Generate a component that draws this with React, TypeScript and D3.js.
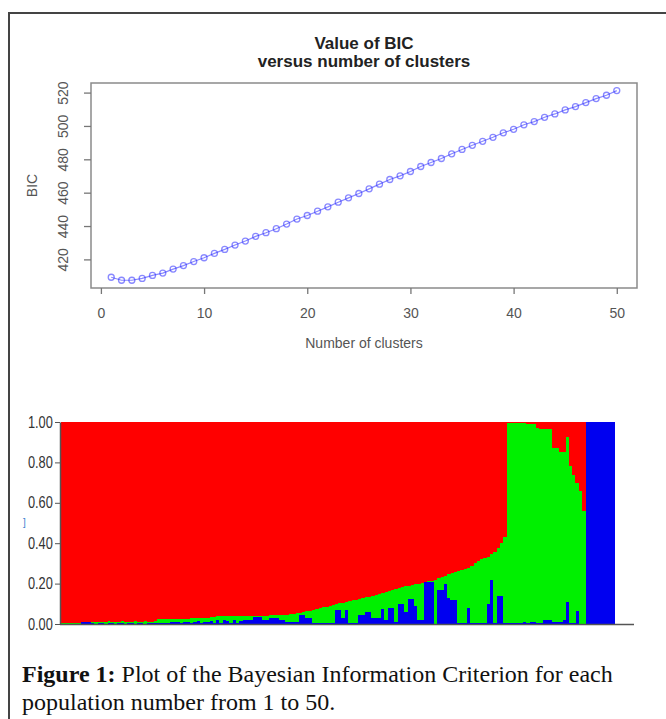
import React, { useEffect, useRef } from 'react'
import * as d3 from 'd3'

const WIDTH = 666
const HEIGHT = 719

// top panel: BIC value for each number of clusters
const clusters = [1, 2, 3, 4, 5, 6, 7, 8, 9, 10, 11, 12, 13, 14, 15, 16, 17, 18, 19, 20, 21, 22, 23, 24, 25,
  26, 27, 28, 29, 30, 31, 32, 33, 34, 35, 36, 37, 38, 39, 40, 41, 42, 43, 44, 45, 46, 47, 48, 49, 50]
const bic = [409.3, 407.5, 407.5, 408.6, 410.4, 411.8, 414.2, 416.3, 418.7, 421.0,
  423.6, 426.0, 428.6, 431.0, 433.8, 436.0, 438.4, 441.2, 444.2, 446.3,
  448.9, 451.5, 454.3, 456.9, 459.5, 462.3, 465.1, 467.9, 470.1, 472.7,
  475.7, 478.1, 480.5, 483.3, 485.9, 488.4, 490.8, 493.2, 495.9, 498.0,
  500.7, 502.6, 505.2, 507.2, 509.6, 511.6, 514.0, 516.4, 518.4, 521.2]
const bicTicksX = [0, 10, 20, 30, 40, 50]
const bicTicksY = [420, 440, 460, 480, 500, 520]

// bottom panel: membership of each individual (green = what is left)
const qRed = [
  0.994, 0.994, 0.994, 0.994, 0.994, 0.994, 0.99, 0.99, 0.99,
  0.988, 0.988, 0.989, 0.988, 0.988, 0.987, 0.988, 0.988, 0.988, 0.987,
  0.988, 0.988, 0.988, 0.987, 0.988, 0.988, 0.987, 0.988, 0.988, 0.987,
  0.977, 0.977, 0.977, 0.976,
  0.975, 0.974, 0.974, 0.973, 0.973, 0.973, 0.972, 0.972, 0.972, 0.971, 0.971, 0.97,
  0.963, 0.963, 0.962, 0.962, 0.962, 0.962, 0.961, 0.961, 0.961, 0.961, 0.96, 0.96,
  0.96, 0.96, 0.959,
  0.958, 0.958, 0.958, 0.957, 0.957,
  0.955, 0.955, 0.954, 0.953, 0.952,
  0.95, 0.947, 0.944, 0.941, 0.938, 0.934, 0.93, 0.926, 0.922, 0.918,
  0.914, 0.91, 0.906, 0.902, 0.898, 0.895, 0.891, 0.887, 0.883, 0.879,
  0.875, 0.872, 0.868, 0.864, 0.86, 0.857, 0.851, 0.846, 0.841, 0.836,
  0.83, 0.826, 0.822, 0.818, 0.814, 0.81, 0.807, 0.804, 0.801, 0.798,
  0.79, 0.789, 0.786, 0.782, 0.774, 0.768, 0.76, 0.75, 0.746, 0.742,
  0.738, 0.734, 0.729, 0.724, 0.712, 0.7, 0.69, 0.68, 0.673, 0.667,
  0.655, 0.642, 0.625, 0.6, 0.57,
  0.003, 0.003, 0.003, 0.003, 0.003, 0.003,
  0.01, 0.01, 0.01, 0.03, 0.035, 0.035, 0.035, 0.035,
  0.13, 0.13, 0.15, 0.15, 0.075,
  0.22, 0.26, 0.3, 0.34, 0.44,
  0, 0, 0, 0, 0, 0, 0, 0, 0]
const qBlue = [
  0, 0, 0, 0, 0, 0, 0.008, 0.008, 0.008,
  0.005, 0, 0.006, 0.005, 0, 0.006, 0.005, 0, 0.005, 0.006,
  0, 0.005, 0.006, 0, 0.005, 0.006, 0, 0.005, 0.006, 0.004,
  0.003, 0.003, 0.003, 0.003,
  0.012, 0.012, 0.01, 0.004, 0.012, 0.01, 0.004, 0.012, 0.015, 0.006, 0.012, 0.01,
  0.015, 0.005, 0.02, 0.006, 0.018, 0.015, 0.004, 0.02, 0.006, 0.015, 0.02, 0.02,
  0.02, 0.033, 0.033,
  0.033, 0.02, 0.02, 0.028, 0.028, 0.028, 0.02, 0.02, 0.01, 0.01,
  0.01, 0.01, 0.045, 0.045, 0.028, 0.028, 0.003, 0.003, 0.003, 0.003,
  0.003, 0.003, 0.003, 0.068, 0.068, 0.028, 0.068, 0.003, 0.003, 0.003,
  0.045, 0.045, 0.06, 0.06, 0.028, 0.028, 0.028, 0.075, 0.02, 0.08,
  0.08, 0.01, 0.1, 0.1, 0.06, 0.125, 0.125, 0.09, 0.02, 0.02,
  0.21, 0.21, 0.21, 0, 0.17, 0.17, 0.2, 0.13, 0.12, 0.12,
  0.005, 0.005, 0.005, 0.08, 0.005, 0.005, 0.005, 0.005, 0.005, 0.1,
  0.22, 0.005, 0.14, 0.14, 0.003, 0.003, 0.003, 0.003, 0.003, 0.003,
  0.01, 0.003, 0.01, 0.01, 0.003, 0.003, 0.02, 0.02, 0.02, 0.01,
  0.01, 0.01, 0.02, 0.11, 0.005, 0.005, 0.065, 0, 0,
  1, 1, 1, 1, 1, 1, 1, 1, 1]
const qTicks = [0, 0.2, 0.4, 0.6, 0.8, 1.0]
const qColors = { blue: '#0000f0', green: '#00f000', red: '#ff0000' }

function App() {
  const ref = useRef<SVGSVGElement>(null)

  useEffect(() => {
    const svg = d3.select(ref.current)
    svg.selectAll('*').remove()

    // page frame
    svg.append('path')
      .attr('d', 'M9,719V13H666')
      .attr('fill', 'none')
      .attr('stroke', '#444')
      .attr('stroke-width', 2)

    // ---------- BIC plot ----------
    const box = { left: 91, right: 637, top: 83, bottom: 288 }
    const x = d3.scaleLinear().domain([-0.96, 51.96]).range([box.left, box.right])
    const y = d3.scaleLinear().domain([402.85, 525.75]).range([box.bottom, box.top])
    const font = "'Liberation Sans', Arial, sans-serif"

    const top = svg.append('g').style('font-family', font)

    top.append('rect')
      .attr('x', box.left).attr('y', box.top)
      .attr('width', box.right - box.left).attr('height', box.bottom - box.top)
      .attr('fill', 'none').attr('stroke', '#8a8a8a').attr('stroke-width', 1.5)

    const xAxis = top.append('g')
      .attr('transform', 'translate(0,' + box.bottom + ')')
      .call(d3.axisBottom(x).tickValues(bicTicksX).tickSize(6).tickSizeOuter(0).tickPadding(14))
    xAxis.select('.domain').remove()
    xAxis.selectAll('line').attr('stroke', '#777').attr('stroke-width', 1.3)
    xAxis.selectAll('text').attr('font-size', 14).attr('fill', '#555').attr('font-family', font)

    const yAxis = top.append('g')
      .attr('transform', 'translate(' + box.left + ',0)')
      .call(d3.axisLeft(y).tickValues(bicTicksY).tickSize(7).tickSizeOuter(0))
    yAxis.select('.domain').remove()
    yAxis.selectAll('line').attr('stroke', '#777').attr('stroke-width', 1.3)
    yAxis.selectAll('text')
      .attr('transform', 'rotate(-90)')
      .attr('x', 0).attr('y', -23).attr('dy', 0)
      .attr('text-anchor', 'middle')
      .attr('font-size', 14).attr('fill', '#555').attr('font-family', font)

    const line = d3.line<number>()
      .x((d, i) => x(clusters[i]))
      .y(d => y(d))
    top.append('path')
      .datum(bic)
      .attr('d', line)
      .attr('fill', 'none')
      .attr('stroke', 'rgba(40,40,255,0.55)')
      .attr('stroke-width', 1.2)
    top.selectAll('circle.pt')
      .data(bic)
      .join('circle')
      .attr('class', 'pt')
      .attr('cx', (d, i) => x(clusters[i]))
      .attr('cy', d => y(d))
      .attr('r', 3)
      .attr('fill', 'none')
      .attr('stroke', 'rgba(40,40,255,0.55)')
      .attr('stroke-width', 1.3)

    top.append('text')
      .attr('x', (box.left + box.right) / 2).attr('y', 49)
      .attr('text-anchor', 'middle').attr('font-weight', 'bold')
      .attr('font-size', 17).attr('fill', '#222')
      .text('Value of BIC')
    top.append('text')
      .attr('x', (box.left + box.right) / 2).attr('y', 67)
      .attr('text-anchor', 'middle').attr('font-weight', 'bold')
      .attr('font-size', 17).attr('fill', '#222')
      .text('versus number of clusters')
    top.append('text')
      .attr('x', (box.left + box.right) / 2).attr('y', 348)
      .attr('text-anchor', 'middle')
      .attr('font-size', 14).attr('fill', '#555')
      .text('Number of clusters')
    top.append('text')
      .attr('transform', 'translate(37,' + (box.top + box.bottom) / 2 + ') rotate(-90)')
      .attr('text-anchor', 'middle')
      .attr('font-size', 14).attr('fill', '#555')
      .text('BIC')

    // ---------- membership bar plot ----------
    const plot = { left: 61, right: 615, top: 422, bottom: 624 }
    const rows = qRed.map((r, i) => ({
      blue: qBlue[i],
      green: Math.max(0, 1 - r - qBlue[i]),
      red: r
    }))
    const xb = d3.scaleBand<number>().domain(d3.range(rows.length)).range([plot.left, plot.right])
    const yq = d3.scaleLinear().domain([0, 1]).range([plot.bottom, plot.top])
    const stack = d3.stack<any>().keys(['blue', 'green', 'red'])(rows)

    const bars = svg.append('g').attr('shape-rendering', 'crispEdges')
    bars.selectAll('g')
      .data(stack)
      .join('g')
      .attr('fill', d => (qColors as any)[d.key])
      .selectAll('rect')
      .data(d => d.map((s, i) => ({ s, i })))
      .join('rect')
      .attr('x', d => xb(d.i) as number)
      .attr('width', xb.bandwidth() + 0.4)
      .attr('y', d => yq(Math.min(1, d.s[1])))
      .attr('height', d => Math.max(0, yq(d.s[0]) - yq(Math.min(1, d.s[1]))))

    const qAxis = svg.append('g')
      .attr('transform', 'translate(60,0)')
      .call(d3.axisLeft(yq).tickValues(qTicks).tickFormat(d3.format('.2f')).tickSize(5).tickSizeOuter(0).tickPadding(4))
    qAxis.select('.domain').attr('stroke', '#555').attr('stroke-width', 1.5)
    qAxis.selectAll('line').attr('stroke', '#555')
    // condensed look of the original tick labels
    qAxis.selectAll('text')
      .attr('font-family', font)
      .attr('font-size', 16).attr('fill', '#333')
      .attr('transform', 'scale(0.8,1)')

    svg.append('line')
      .attr('x1', 60).attr('x2', 634)
      .attr('y1', plot.bottom + 0.5).attr('y2', plot.bottom + 0.5)
      .attr('stroke', '#555').attr('stroke-width', 1.5)

    svg.append('text')
      .attr('x', 23).attr('y', 526)
      .attr('font-size', 10).attr('fill', '#3a7fd0')
      .attr('font-family', font)
      .text(']')

    // ---------- caption ----------
    const cap = svg.append('g')
      .style('font-family', "'Liberation Serif', 'Times New Roman', serif")
      .attr('font-size', 24).attr('fill', '#111')
    const l1 = cap.append('text').attr('x', 22).attr('y', 682)
    l1.append('tspan').attr('font-weight', 'bold').text('Figure 1:')
    l1.append('tspan').text(' Plot of the Bayesian Information Criterion for each')
    cap.append('text').attr('x', 22).attr('y', 710).text('population number from 1 to 50.')
  }, [])

  return (
    <svg ref={ref} width={WIDTH} height={HEIGHT}
      style={{ position: 'absolute', left: 0, top: 0, background: '#fff' }} />
  )
}

export default App
